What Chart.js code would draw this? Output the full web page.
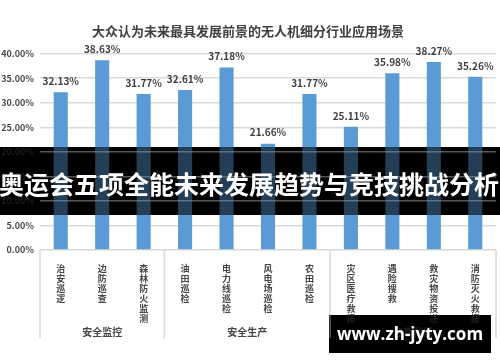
<!DOCTYPE html>
<html>
<head>
<meta charset="utf-8">
<script src="https://cdn.jsdelivr.net/npm/chart.js@4"></script>
<style>
  html, body { margin: 0; padding: 0; background: #fff; }
</style>
</head>
<body>
<canvas id="chart" width="500" height="362"></canvas>
<script>
const categories = ['治安巡逻', '边防巡查', '森林防火监测', '油田巡检', '电力线巡检', '风电场巡检', '农田巡检',
                    '灾区医疗救援', '遇险搜救', '救灾物资投送', '消防灭火救援'];
const values = [32.13, 38.63, 31.77, 32.61, 37.18, 21.66, 31.77, 25.11, 35.98, 38.27, 35.26];
const groups = ['安全监控', '安全生产', '应急救援'];
const groupSizes = [3, 4, 4];
const chartTitle = '大众认为未来最具发展前景的无人机细分行业应用场景';
const bannerText = '奥运会五项全能未来发展趋势与竞技挑战分析';
const siteText = 'www.zh-jyty.com';

const FONT = '"Noto Sans CJK SC", "Noto Sans", sans-serif';
const TEXT = '#474747';

function drawValueLabels(chart) {
  const ctx = chart.ctx;
  const meta = chart.getDatasetMeta(0);
  ctx.save();
  ctx.font = 'bold 10px ' + FONT;
  ctx.fillStyle = '#3f3f3f';
  ctx.textAlign = 'center';
  ctx.textBaseline = 'middle';
  meta.data.forEach((bar, i) => {
    ctx.fillText(values[i].toFixed(2) + '%', bar.x, bar.y - 11);
  });
  ctx.restore();
}

function drawGroups(chart) {
  const ctx = chart.ctx;
  const x = chart.scales.x;
  const top = chart.chartArea.bottom;
  const half = (x.getPixelForValue(1) - x.getPixelForValue(0)) / 2;
  const edges = [x.getPixelForValue(0) - half];
  let n = 0;
  groupSizes.forEach(s => { n += s; edges.push(x.getPixelForValue(n - 1) + half); });
  ctx.save();
  ctx.strokeStyle = '#d9d9d9';
  ctx.lineWidth = 1.5;
  ctx.beginPath();
  edges.forEach(px => { ctx.moveTo(px, top); ctx.lineTo(px, top + 88); });
  ctx.stroke();
  ctx.font = 'bold 10px ' + FONT;
  ctx.fillStyle = TEXT;
  ctx.textAlign = 'center';
  ctx.textBaseline = 'middle';
  groups.forEach((g, i) => ctx.fillText(g, (edges[i] + edges[i + 1]) / 2, top + 82));
  ctx.restore();
}

// black box with the chart still faintly visible underneath
function darkBox(chart, bx, by, bw, bh) {
  const ctx = chart.ctx;
  ctx.save();
  ctx.beginPath();
  ctx.rect(bx, by, bw, bh);
  ctx.clip();
  ctx.fillStyle = '#000';
  ctx.fillRect(bx, by, bw, bh);
  ctx.globalAlpha = 0.4;
  chart.scales.y.draw(chart.chartArea);
  chart.scales.x.draw(chart.chartArea);
  chart.getDatasetMeta(0).controller.draw();
  drawGroups(chart);
  ctx.restore();
}

const overlay = {
  id: 'overlay',
  afterDatasetsDraw(chart) {
    drawValueLabels(chart);
  },
  afterDraw(chart) {
    const ctx = chart.ctx;
    drawGroups(chart);

    darkBox(chart, 0, 147, 500, 68);
    ctx.save();
    ctx.font = 'bold 25px ' + FONT;
    ctx.fillStyle = '#fff';
    ctx.textAlign = 'center';
    ctx.textBaseline = 'middle';
    ctx.fillText(bannerText, 249, 184);
    ctx.restore();

    darkBox(chart, 329, 315, 162, 38);
    ctx.save();
    ctx.font = 'bold 17px "Open Sans", sans-serif';
    ctx.fillStyle = '#fff';
    ctx.textAlign = 'center';
    ctx.textBaseline = 'middle';
    ctx.fillText(siteText, 410, 335);
    ctx.restore();
  }
};

new Chart(document.getElementById('chart'), {
  type: 'bar',
  data: {
    labels: categories,
    datasets: [{
      data: values,
      backgroundColor: '#5b9bd5',
      barPercentage: 0.68,
      categoryPercentage: 0.5
    }]
  },
  options: {
    responsive: false,
    animation: false,
    devicePixelRatio: 1,
    layout: { padding: { left: 0, right: 4, top: 0, bottom: 0 } },
    plugins: {
      legend: { display: false },
      tooltip: { enabled: false },
      title: {
        display: true,
        text: chartTitle,
        color: '#404040',
        font: { family: FONT, size: 13, weight: 'bold' },
        padding: { top: 23, bottom: 15 }
      }
    },
    scales: {
      y: {
        min: 0,
        max: 40,
        ticks: {
          stepSize: 5,
          padding: 6,
          color: TEXT,
          font: { family: FONT, size: 9, weight: 'bold' },
          callback: v => v.toFixed(2) + '%'
        },
        grid: { color: '#d9d9d9', lineWidth: 1.5, drawTicks: false },
        border: { display: false },
        afterFit: s => { s.width = 40; }
      },
      x: {
        grid: { display: false },
        border: { display: false },
        ticks: {
          autoSkip: false,
          maxRotation: 0,
          minRotation: 0,
          padding: 6,
          color: TEXT,
          font: { family: FONT, size: 9, weight: 'bold', lineHeight: 1.1 },
          callback: (v, i) => categories[i].split('')
        },
        afterFit: s => { s.height = 112; }
      }
    }
  },
  plugins: [overlay]
});
</script>
</body>
</html>
